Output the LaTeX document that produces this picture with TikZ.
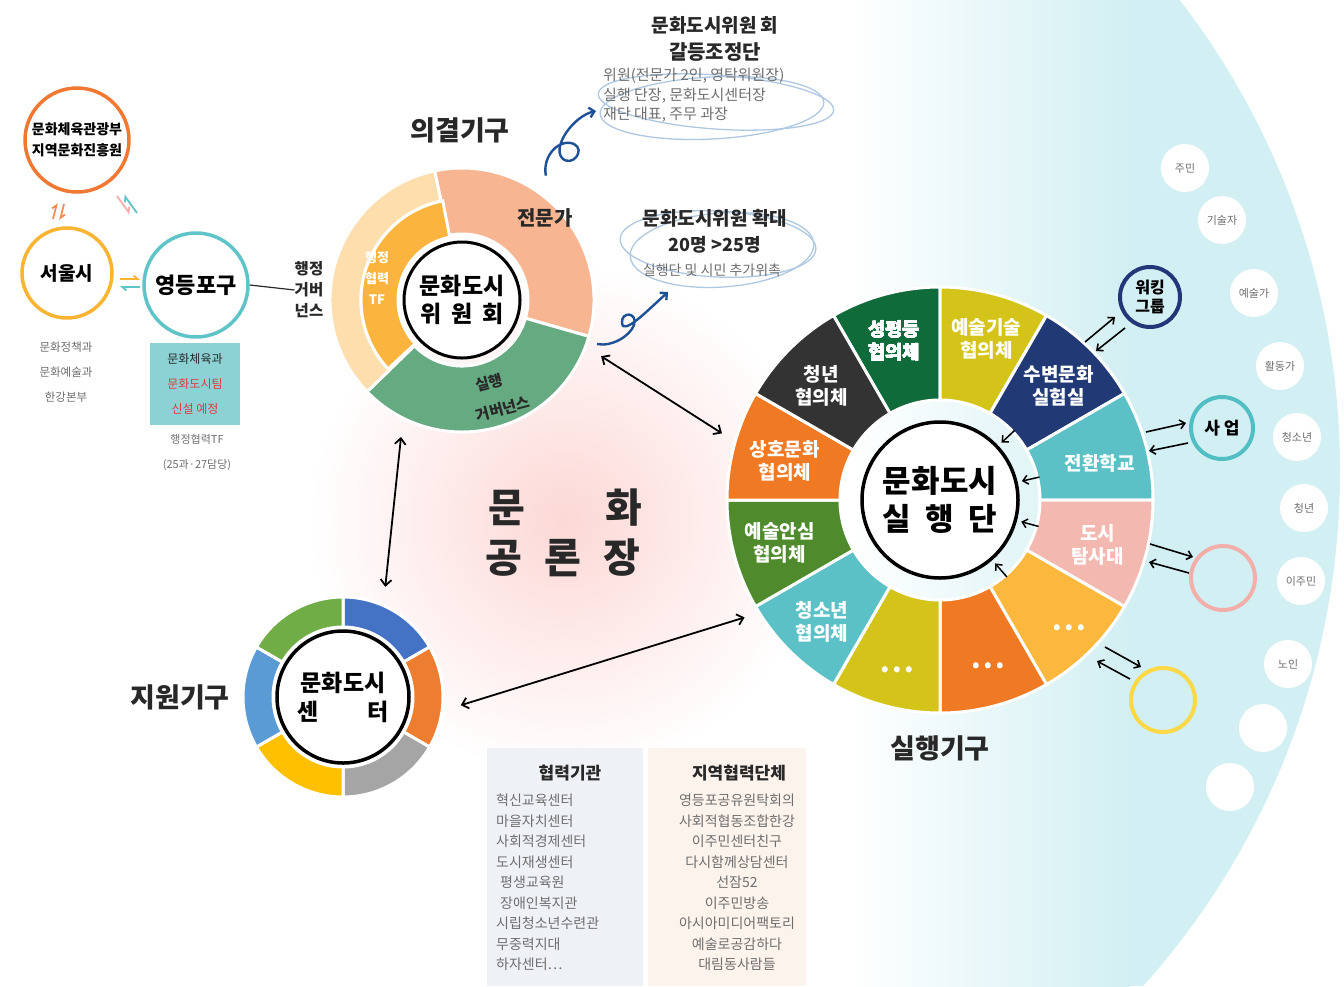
\documentclass[tikz,border=0pt]{standalone}
\usepackage{fontspec}
\setmainfont{Noto Sans CJK KR}
\usetikzlibrary{arrows.meta}

% colours
\definecolor{txtdark}{RGB}{40,40,40}
\definecolor{txtgray}{RGB}{110,110,110}
\definecolor{bgcyan}{RGB}{210,239,243}
\definecolor{pinkglow}{RGB}{252,216,214}
\definecolor{mcstor}{RGB}{240,120,50}
\definecolor{seoulyel}{RGB}{248,180,50}
\definecolor{ydpteal}{RGB}{95,196,200}
\definecolor{boxteal}{RGB}{140,210,212}
\definecolor{wknavy}{RGB}{35,55,120}
\definecolor{saupteal}{RGB}{80,190,195}
\definecolor{pinkring}{RGB}{242,175,170}
\definecolor{yelring}{RGB}{252,215,70}
\definecolor{sgreen}{RGB}{16,107,58}
\definecolor{solive}{RGB}{212,196,26}
\definecolor{snavy}{RGB}{33,58,118}
\definecolor{steal}{RGB}{92,193,198}
\definecolor{spink}{RGB}{243,184,176}
\definecolor{samber}{RGB}{251,184,60}
\definecolor{sorange}{RGB}{240,121,36}
\definecolor{sgreen2}{RGB}{79,138,45}
\definecolor{sdark}{RGB}{51,51,51}
\definecolor{peach}{RGB}{247,181,145}
\definecolor{hgreen}{RGB}{102,170,130}
\definecolor{paleyel}{RGB}{253,222,172}
\definecolor{tforange}{RGB}{251,180,62}
\definecolor{cblue}{RGB}{68,114,196}
\definecolor{corange}{RGB}{237,125,49}
\definecolor{cgray}{RGB}{165,165,165}
\definecolor{cyellow}{RGB}{255,192,0}
\definecolor{clblue}{RGB}{91,155,213}
\definecolor{cgreen}{RGB}{112,173,71}
\definecolor{curlblue}{RGB}{30,80,150}
\definecolor{swirlblue}{RGB}{175,200,225}
\definecolor{tabblue}{RGB}{238,241,246}
\definecolor{tabpeach}{RGB}{253,243,237}
\definecolor{teamred}{RGB}{220,60,60}

\newcommand{\fsz}[2]{\fontsize{#1}{#2}\selectfont}
% ring segment: inner r, outer r, start angle, end angle, colour
\newcommand{\ringseg}[5]{\path[fill=#5, draw=white, line width=3pt] (#3:#2) arc[start angle=#3, end angle=#4, radius=#2] -- (#4:#1) arc[start angle=#4, end angle=#3, radius=#1] -- cycle;}

\begin{document}
\begin{tikzpicture}[x=1pt,y=-1pt,
    arr/.style={-{Straight Barb[length=5pt,width=9pt]}, line width=1.6pt},
    dbl/.style={{Straight Barb[length=6pt,width=11pt]}-{Straight Barb[length=6pt,width=11pt]}, line width=1.8pt},
    harp/.style={-{Straight Barb[harpoon,length=4pt,width=7pt]}, line width=1.8pt},
    curl/.style={-{Straight Barb[length=5pt,width=10pt]}, line width=2.4pt, curlblue},
    swirl/.style={draw=swirlblue, line width=1.3pt},
    person/.style={circle, fill=white, minimum size=48pt, inner sep=0pt, text=txtgray, font=\fsz{11}{13}},
    ringc/.style={circle, line width=4pt, minimum size=#1, inner sep=0pt},
    hub/.style={circle, minimum size=#1, inner sep=0pt},
    small/.style={text=txtgray, align=center, inner sep=0pt},
    seglab/.style={text=white, font=\bfseries\fsz{19}{23}, align=center, inner sep=0pt},
    bigtitle/.style={font=\bfseries\fsz{27}{30}, text=txtdark, inner sep=0pt}]

  \useasboundingbox (0,0) rectangle (1344,986);
  \fill[white] (0,0) rectangle (1344,986);

  % glow and background arc
  \shade[inner color=pinkglow, outer color=white] (565,520) circle (255);
  \begin{scope}
    \clip (568,471) circle (772);
    \shade[left color=white, right color=bgcyan] (850,0) rectangle (1130,986);
    \fill[bgcyan] (1129,0) rectangle (1344,986);
  \end{scope}

  % citizens on the arc
  \node[person] (jumin) at (1185,168) {주민};
  \node[person] (gisulja) at (1222,220) {기술자};
  \node[person] (yesulga) at (1254,293) {예술가};
  \node[person] (hwaldongga) at (1280,366) {활동가};
  \node[person] (cheongsonyeon) at (1297,437) {청소년};
  \node[person] (cheongnyeon) at (1304,508) {청년};
  \node[person] (ijumin) at (1301,581) {이주민};
  \node[person] (noin) at (1288,664) {노인};
  \node[person] (empty1) at (1263,728) {};
  \node[person] (empty2) at (1230,787) {};

  % 실행단 wheel
  \begin{scope}[shift={(940,500)}, y=1pt]
    \foreach \a/\b/\c in {90/120/sgreen, 60/90/solive, 30/60/snavy, 0/30/steal,
        -30/0/spink, -60/-30/samber, -90/-60/sorange, -120/-90/solive,
        -150/-120/steal, -180/-150/sgreen2, 150/180/sorange, 120/150/sdark}
      \ringseg{100}{213}{\a}{\b}{\c}
    \node[seglab] at (106:166) {성평등\\협의체};
    \node[seglab] at (74:168) {예술기술\\협의체};
    \node[seglab] at (44:165) {수변문화\\실험실};
    \node[seglab] at (13:164) {전환학교};
    \node[seglab] at (-16:164) {도시\\탐사대};
    \node[seglab] at (-45:183) {• • •};
    \node[seglab] at (-74:174) {• • •};
    \node[seglab] at (-104:176) {• • •};
    \node[seglab] at (-134:170) {청소년\\협의체};
    \node[seglab] at (-165:166) {예술안심\\협의체};
    \node[seglab] at (166:160) {상호문화\\협의체};
    \node[seglab] at (136:165) {청년\\협의체};
    \foreach \a in {43,13,-15,-49}
      \draw[arr, line width=1.5pt] (\a:102) -- (\a:84);
  \end{scope}
  \node[hub=424pt, outer sep=16pt] (silhaeng) at (940,500) {};
  \node[circle, draw, line width=3.5pt, minimum size=156pt, fill=white] (silcore) at (940,500) {};
  \node[font=\bfseries\fsz{31}{38}, align=center] at (silcore) {문화도시\\\makebox[3.7em]{실\hfill 행\hfill 단}};
  \node[bigtitle] (silgigu) at (940,748) {실행기구};

  % outer rings of the wheel
  \node[ringc=60pt, draw=wknavy] (wk) at (1150,297) {};
  \node[font=\bfseries\fsz{16}{19}, align=center] at (wk) {워킹\\그룹};
  \node[ringc=62pt, draw=saupteal] (saup) at (1222,428) {};
  \node[font=\bfseries\fsz{17}{20}] at (saup) {사 업};
  \node[ringc=64pt, draw=pinkring] (pinkc) at (1223,578) {};
  \node[ringc=64pt, draw=yelring] (yelc) at (1163,700) {};
  \draw[arr] ([shift={(-65,45)}]wk.center) -- ([shift={(-35,20)}]wk.center);
  \draw[arr] ([shift={(-25,31)}]wk.center) -- ([shift={(-54,54)}]wk.center);
  \draw[arr] ([shift={(-76,4)}]saup.center) -- ([shift={(-36,-5)}]saup.center);
  \draw[arr] ([shift={(-34,15)}]saup.center) -- ([shift={(-73,23)}]saup.center);
  \draw[arr] ([shift={(-73,-34)}]pinkc.center) -- ([shift={(-30,-21)}]pinkc.center);
  \draw[arr] ([shift={(-34,-5)}]pinkc.center) -- ([shift={(-74,-16)}]pinkc.center);
  \draw[arr] ([shift={(-58,-53)}]yelc.center) -- ([shift={(-22,-33)}]yelc.center);
  \draw[arr] ([shift={(-33,-21)}]yelc.center) -- ([shift={(-66,-39)}]yelc.center);

  % 위원회 ring
  \begin{scope}[shift={(462,300)}, y=1pt]
    \ringseg{66}{132}{-16}{102}{peach}
    \ringseg{66}{132}{-136}{-16}{hgreen}
    \ringseg{101}{132}{102}{224}{paleyel}
    \ringseg{64}{101}{101}{223}{tforange}
  \end{scope}
  \node[hub=264pt, outer sep=18pt] (wiwon) at (462,300) {};
  \node[circle, draw, line width=3pt, minimum size=116pt, fill=white] (wiwoncore) at (462,300) {};
  \node[font=\bfseries\fsz{23}{28}, align=center] at (wiwoncore) {문화도시\\\makebox[3.6em]{위\hfill 원\hfill 회}};
  \node[font=\bfseries\fsz{20}{24}, text=txtdark] (jeonmunga) at (545,218) {전문가};
  \node[text=white, font=\bfseries\fsz{13}{21}, align=center] (tf) at (377,278) {행정\\협력\\TF};
  \node[rotate=15, font=\bfseries\fsz{15}{18}, text=txtdark, inner sep=0pt] (silgov1) at (489,383) {실행};
  \node[rotate=15, font=\bfseries\fsz{15}{18}, text=txtdark, inner sep=0pt] (silgov2) at (503,409) {거버넌스};
  \node[bigtitle] (uigyeol) at (460,130) {의결기구};

  % 센터 ring
  \begin{scope}[shift={(343,697)}, y=1pt]
    \ringseg{70}{100}{30}{90}{cblue}
    \ringseg{70}{100}{-30}{30}{corange}
    \ringseg{70}{100}{-90}{-30}{cgray}
    \ringseg{70}{100}{-150}{-90}{cyellow}
    \ringseg{70}{100}{150}{210}{clblue}
    \ringseg{70}{100}{90}{150}{cgreen}
  \end{scope}
  \node[hub=200pt, outer sep=18pt] (senter) at (343,697) {};
  \node[circle, draw, line width=3.5pt, minimum size=132pt, fill=white] (sentercore) at (343,697) {};
  \node[font=\bfseries\fsz{23}{29}, align=center] at (sentercore) {문화도시\\\makebox[4em]{센\hfill 터}};
  \node[bigtitle] (jiwon) at (180,697) {지원기구};

  % 공론장
  \node[font=\bfseries\fsz{40}{44}, text=txtdark] (gongron1) at (565,508) {문\hskip 2em 화};
  \node[font=\bfseries\fsz{40}{44}, text=txtdark] (gongron2) at (563,558) {공\hskip .55em 론\hskip .55em 장};

  % links between bodies
  \draw[dbl] (wiwon.-22) -- (silhaeng.163);
  \draw[dbl] (wiwon.-114) -- (senter.69);
  \draw[dbl] (senter.-4) -- (silhaeng.211);

  % 갈등조정단 and 확대
  \draw[swirl] (716,102) ellipse [x radius=118, y radius=27, rotate=-4];
  \draw[swirl] (712,108) ellipse [x radius=112, y radius=31, rotate=3];
  \draw[swirl] (718,244) ellipse [x radius=98, y radius=33, rotate=-3];
  \draw[swirl] (722,250) ellipse [x radius=92, y radius=37, rotate=4];
  \node[font=\bfseries\fsz{19}{22}, text=txtdark] (galtitle) at (715,25) {문화도시위원 회};
  \node[font=\bfseries\fsz{20}{22}, text=txtdark] (galdan) at (715,52) {갈등조정단};
  \node[small, align=left, anchor=north west, font=\fsz{15}{19.5}] (galmembers) at (603,68) {위원(전문가 2인, 영탁위원장)\\실행 단장, 문화도시센터장\\재단 대표, 주무 과장};
  \node[font=\bfseries\fsz{19}{22}, text=txtdark] (hwaktitle) at (715,218) {문화도시위원 확대};
  \node[font=\bfseries\fsz{18}{22}, text=txtdark] (hwaknum) at (715,245) {20명 >25명};
  \node[small, font=\fsz{14}{16}] (hwaknote) at (712,270) {실행단 및 시민 추가위촉};
  \coordinate (galdeung) at (596,111);
  \coordinate (curlstart) at (597,344);
  \coordinate (hwakdae) at (668,292);
  \draw[curl] (wiwon.56) .. controls (542,155) and (560,138) .. (574,144)
    .. controls (586,150) and (572,168) .. (562,158)
    .. controls (552,146) and (574,116) .. (galdeung);
  \draw[curl] (curlstart) .. controls (612,347) and (630,336) .. (634,325)
    .. controls (638,312) and (621,311) .. (622,323)
    .. controls (623,336) and (648,310) .. (hwakdae);

  % left: government side
  \node[ringc=104pt, draw=mcstor, line width=3.5pt] (mcst) at (77,140) {};
  \node[font=\bfseries\fsz{14}{21}, align=center] at (mcst) {문화체육관광부\\지역문화진흥원};
  \node[ringc=90pt, draw=seoulyel, line width=3.5pt] (seoul) at (67,273) {};
  \node[font=\bfseries\fsz{19}{22}] at (seoul) {서울시};
  \node[ringc=104pt, draw=ydpteal, line width=3.5pt] (ydp) at (196,285) {};
  \node[font=\bfseries\fsz{22}{26}] at (ydp) {영등포구};
  \draw[harp, mcstor!85] (53,219) -- (57,203);
  \draw[harp, mcstor!85] (64,204) -- (60,220);
  \draw[harp, pinkring] (117,196) -- (130,214);
  \draw[harp, ydpteal] (137,213) -- (124,195);
  \draw[harp, seoulyel] (120,279) -- (140,279);
  \draw[harp, ydpteal] (140,287) -- (120,287);
  \node[small, font=\bfseries\fsz{15.5}{21}, text=txtdark] (hjgov) at (309,290) {행정\\거버\\넌스};
  \draw[line width=1.2pt, txtdark] (ydp.east) -- (hjgov.west);
  \node[small, font=\fsz{11.5}{25}] (seouldept) at (66,372) {문화정책과\\문화예술과\\한강본부};
  \node[fill=boxteal, minimum width=90pt, minimum height=82pt, inner sep=0pt] (ydpbox) at (195,384) {};
  \node[align=center, font=\fsz{12}{25}, text=txtdark] at (ydpbox) {문화체육과\\\textcolor{teamred}{문화도시팀}\\\textcolor{teamred}{신설 예정}};
  \node[small, font=\fsz{11}{25}] (ydptf) at (197,452) {행정협력TF\\(25과·27담당)};

  % partner tables
  \node[fill=tabblue, minimum width=156pt, minimum height=238pt, anchor=north west, inner sep=0pt] (hyeopbox) at (487,748) {};
  \node[fill=tabpeach, minimum width=158pt, minimum height=238pt, anchor=north west, inner sep=0pt] (jiyeokbox) at (648,748) {};
  \node[font=\bfseries\fsz{17}{20}, text=txtdark] (hyeoptitle) at (570,773) {협력기관};
  \node[font=\bfseries\fsz{17}{20}, text=txtdark] (jiyeoktitle) at (739,773) {지역협력단체};
  \node[small, align=left, anchor=north west, font=\fsz{14}{20.5}] (hyeoplist) at (496,794)
    {혁신교육센터\\마을자치센터\\사회적경제센터\\도시재생센터\\\hspace{4pt}평생교육원\\\hspace{4pt}장애인복지관\\시립청소년수련관\\무중력지대\\하자센터…};
  \node[small, align=center, anchor=north, font=\fsz{14}{20.5}] (jiyeoklist) at (737,794)
    {영등포공유원탁회의\\사회적협동조합한강\\이주민센터친구\\다시함께상담센터\\선잠52\\이주민방송\\아시아미디어팩토리\\예술로공감하다\\대림동사람들};
\end{tikzpicture}
\end{document}
